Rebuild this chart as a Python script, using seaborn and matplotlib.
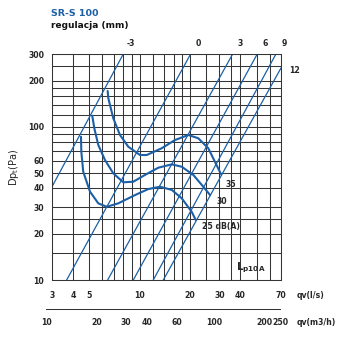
import matplotlib
matplotlib.use("Agg")
import matplotlib.pyplot as plt
import seaborn as sns
import pandas as pd
from matplotlib.ticker import FixedLocator, FixedFormatter, NullLocator, NullFormatter

sns.set_style("white")
plt.rcParams['font.family'] = ['DejaVu Sans']
plt.rcParams['mathtext.fontset'] = 'dejavusans'

# ---------------- data ----------------
# regulation (system) lines, endpoints: flow q (l/s), pressure Dp (Pa)
reg_labels = ['-3', '0', '3', '6', '9', '12']
reg_q_start = [3.0, 3.67, 6.45, 9.18, 12.08, 13.87]
reg_dp_start = [40.7, 10, 10, 10, 10, 10]
reg_q_end = [8.0, 20.2, 36.0, 50.5, 65.3, 70.0]
reg_dp_end = [300, 300, 300, 300, 300, 243]

# sound level iso-curves Lp10A
q35 = [6.45, 6.51, 6.97, 7.64, 8.57, 10.07, 11.04, 13.56, 16.29, 19.56, 22.44, 25.75, 28.2, 30.7]
dp35 = [172, 154, 114, 88.7, 74.3, 65.6, 65.6, 72.6, 82.2, 88.7, 84.4, 72.6, 59.3, 49.1]
q30 = [5.22, 5.37, 5.67, 6.22, 6.97, 8.0, 9.18, 10.78, 12.95, 15.57, 17.87, 20.96, 24.04, 26.4]
dp30 = [118.5, 98, 76.3, 60.8, 49.8, 43.5, 43.9, 48.6, 54.2, 57.0, 55.0, 48.6, 40.7, 35.9]
q25 = [4.47, 4.49, 4.61, 5.06, 5.67, 6.37, 7.47, 9.40, 11.28, 13.25, 15.57, 17.87, 20.5, 21.66]
dp25 = [86.4, 69.0, 51.0, 37.8, 31.7, 30.1, 31.7, 35.9, 39.3, 40.7, 38.8, 34.2, 27.9, 24.7]
curve_labels = ['35', '30', '25 dB(A)']

# axes / grid values
grid_q = [3, 4, 5, 6, 7, 8, 9, 10, 12, 14, 16, 18, 20, 25, 30, 35, 40, 50, 60, 70]
xtick_labels = [3, 4, 5, 10, 20, 30, 40, 70]
grid_dp = [10, 15, 20, 25, 30, 40, 50, 60, 70, 80, 90, 100, 120, 140, 160, 180, 200, 250, 300]
ytick_labels = [10, 20, 30, 40, 50, 60, 100, 200, 300]
m3h_major = [10, 20, 30, 40, 60, 100, 200, 250]
m3h_minor = [15, 25, 50, 70, 80, 90, 150]

BLUE = '#1c5fa6'
GRID = '#353535'
FS = 5.6

W = 337
fig = plt.figure(figsize=(3.37, 3.37), dpi=100)
ax = fig.add_axes([52 / W, (W - 280) / W, 229 / W, 226 / W])
ax.set_xscale('log')
ax.set_yscale('log')
ax.set_xlim(3, 70)
ax.set_ylim(10, 300)

# regulation lines
for i, lab in enumerate(reg_labels):
    df = pd.DataFrame({'q': [reg_q_start[i], reg_q_end[i]], 'dp': [reg_dp_start[i], reg_dp_end[i]]})
    sns.lineplot(data=df, x='q', y='dp', ax=ax, color=BLUE, lw=0.9, sort=False, estimator=None)
    if lab == '12':
        ax.annotate(lab, xy=(reg_q_end[i], reg_dp_end[i]), xytext=(14, -2), textcoords='offset pixels',
                    ha='center', va='center', fontsize=FS, fontweight='bold', annotation_clip=False)
    else:
        ax.annotate(lab, xy=(reg_q_end[i], reg_dp_end[i]), xytext=(8, 11), textcoords='offset pixels',
                    ha='center', va='center', fontsize=FS, fontweight='bold', annotation_clip=False)

# sound curves
offsets = [(10, -10, 'center'), (12, -6, 'center'), (6, -7, 'left')]
for (qs, ds), lab, (ox, oy, ha) in zip([(q35, dp35), (q30, dp30), (q25, dp25)], curve_labels, offsets):
    df = pd.DataFrame({'q': qs, 'dp': ds})
    sns.lineplot(data=df, x='q', y='dp', ax=ax, color=BLUE, lw=1.5, sort=False, estimator=None)
    ax.annotate(lab, xy=(qs[-1], ds[-1]), xytext=(ox, oy), textcoords='offset pixels',
                ha=ha, va='center', fontsize=FS, fontweight='bold')

# grid and ticks
ax.xaxis.set_major_locator(FixedLocator(grid_q))
ax.xaxis.set_major_formatter(FixedFormatter([str(v) if v in xtick_labels else '' for v in grid_q]))
ax.xaxis.set_minor_locator(NullLocator())
ax.xaxis.set_minor_formatter(NullFormatter())
ax.yaxis.set_major_locator(FixedLocator(grid_dp))
ax.yaxis.set_major_formatter(FixedFormatter([str(v) if v in ytick_labels else '' for v in grid_dp]))
ax.yaxis.set_minor_locator(FixedLocator(ytick_labels))
ax.yaxis.set_minor_formatter(NullFormatter())
ax.yaxis.remove_overlapping_locs = False
ax.grid(True, which='major', axis='both', color=GRID, lw=0.75)
ax.grid(False, which='minor')
ax.tick_params(axis='x', which='major', direction='out', length=2.2, width=0.7, color=GRID,
               pad=6.0, labelsize=FS)
ax.tick_params(axis='y', which='major', direction='out', length=0, pad=5.5, labelsize=FS)
ax.tick_params(axis='y', which='minor', direction='out', length=3.0, width=0.7, color=GRID)
for lab in ax.get_xticklabels() + ax.get_yticklabels():
    lab.set_fontweight('bold')
for s in ax.spines.values():
    s.set_color(GRID)
    s.set_linewidth(0.75)

ax.set_xlabel('')
ax.set_ylabel(r'Dp$_\mathregular{t}$(Pa)', fontsize=7.0, labelpad=5)

fig.text(236 / W, 1 - 268 / W, r'$\mathbf{L_{p10A}}$', fontsize=7.5, ha='left', va='center')
fig.text(297 / W, 1 - 295 / W, 'qv(l/s)', fontsize=FS, fontweight='bold', ha='left', va='center')
fig.text(297 / W, 1 - 322.5 / W, 'qv(m3/h)', fontsize=FS, fontweight='bold', ha='left', va='center')
fig.text(51 / W, 1 - 13.5 / W, 'SR-S 100', fontsize=6.8, fontweight='bold', color=BLUE, ha='left', va='center')
fig.text(51 / W, 1 - 25.5 / W, 'regulacja (mm)', fontsize=6.5, fontweight='bold', color='#111111',
         ha='left', va='center')

# secondary flow axis in m3/h
ax2 = fig.add_axes([46.4 / W, (W - 309.3) / W, 234 / W, 0.001])
ax2.set_xscale('log')
ax2.set_xlim(10, 250)
ax2.patch.set_visible(False)
for k in ['top', 'left', 'right']:
    ax2.spines[k].set_visible(False)
ax2.spines['bottom'].set_color(GRID)
ax2.spines['bottom'].set_linewidth(0.75)
ax2.yaxis.set_visible(False)
ax2.xaxis.set_major_locator(FixedLocator(m3h_major))
ax2.xaxis.set_major_formatter(FixedFormatter([str(v) for v in m3h_major]))
ax2.xaxis.set_minor_locator(FixedLocator(m3h_minor))
ax2.xaxis.set_minor_formatter(NullFormatter())
ax2.tick_params(axis='x', which='major', direction='in', length=3.2, width=0.7, color=GRID,
                pad=6.5, labelsize=FS)
ax2.tick_params(axis='x', which='minor', direction='in', length=2.2, width=0.7, color=GRID)
for lab in ax2.get_xticklabels():
    lab.set_fontweight('bold')

fig.savefig('out.png', dpi=100)
